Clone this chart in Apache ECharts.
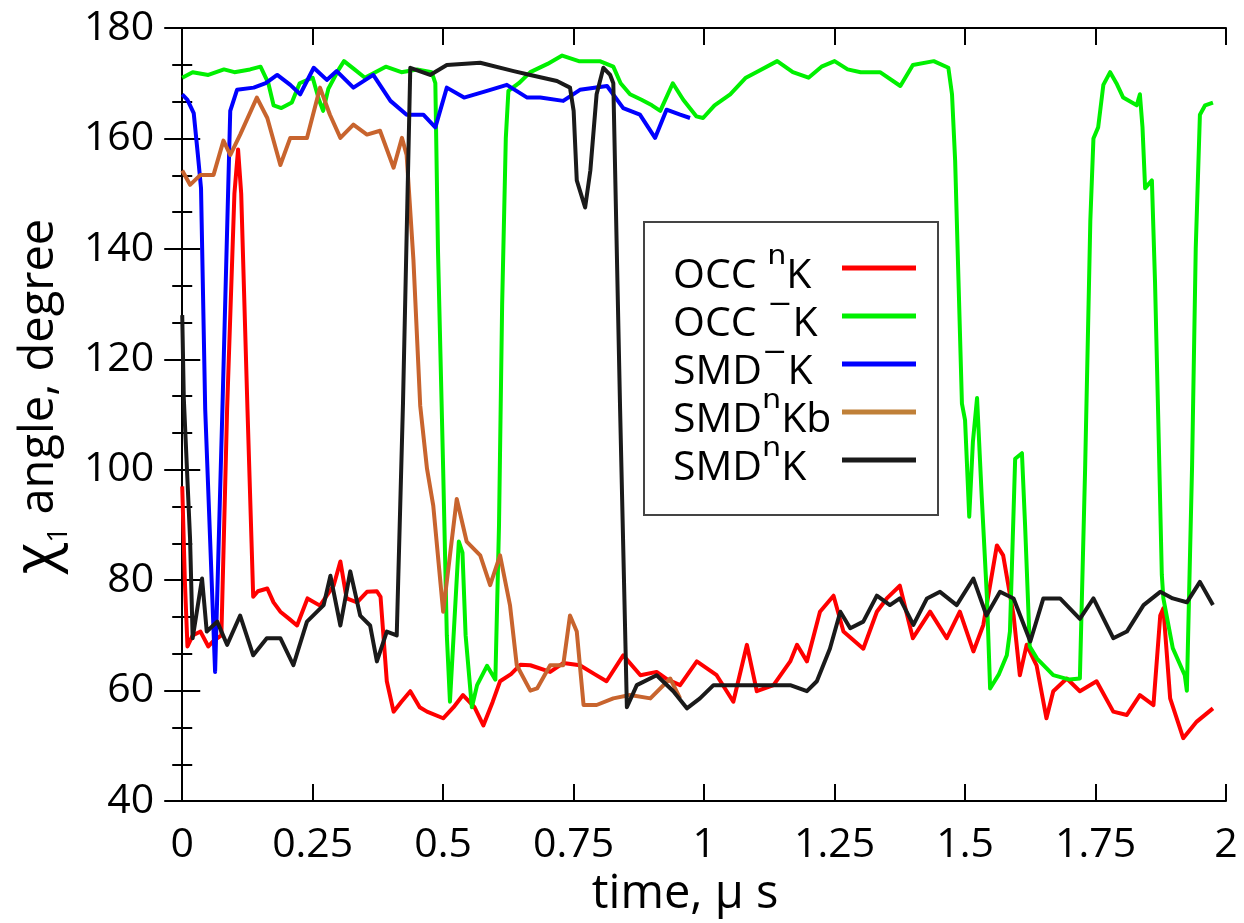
<!DOCTYPE html>
<html>
<head>
<meta charset="utf-8">
<script src="https://cdn.jsdelivr.net/npm/echarts@6/dist/echarts.min.js"></script>
<style>
  html, body { margin: 0; padding: 0; background: #fff; }
  #chart { width: 1244px; height: 923px; }
</style>
</head>
<body>
<div id="chart"></div>
<script>
// ---- data (time in µs, angle in degrees) ----
const xTicks = [0, 0.25, 0.5, 0.75, 1, 1.25, 1.5, 1.75, 2];
const yTicks = [40, 60, 80, 100, 120, 140, 160, 180];
const seriesNames = ['OCCnK', 'OCCmK', 'SMDmK', 'SMDnKb', 'SMDnK'];

const occnK = [[0,97],[0.005,80],[0.01,68],[0.02,70],[0.035,70.7],[0.05,68],[0.06,69],[0.075,70],[0.086,111],[0.1,150],[0.107,158],[0.113,150],[0.125,111],[0.136,77],[0.145,78],[0.163,78.5],[0.175,76],[0.188,74.3],[0.205,73],[0.22,71.8],[0.24,76.7],[0.264,75.4],[0.29,79],[0.303,83.4],[0.315,76.7],[0.335,76],[0.354,77.9],[0.373,78],[0.38,77],[0.392,61.7],[0.405,56.2],[0.42,58],[0.437,59.9],[0.455,57],[0.469,56.2],[0.5,55],[0.52,57],[0.538,59.2],[0.56,57],[0.577,53.7],[0.595,58],[0.609,61.7],[0.63,63],[0.648,64.7],[0.667,64.6],[0.705,63.4],[0.73,65],[0.762,64.6],[0.79,63],[0.813,61.7],[0.845,66.4],[0.878,62.8],[0.909,63.4],[0.93,62],[0.954,61],[0.986,65.3],[1.024,62.8],[1.056,58],[1.082,68.3],[1.101,59.9],[1.133,61],[1.165,65.3],[1.178,68.3],[1.197,65.3],[1.222,74.3],[1.248,77.2],[1.267,70.7],[1.305,67.6],[1.331,74.3],[1.35,76.7],[1.375,79],[1.4,69.5],[1.433,74.3],[1.465,69.5],[1.49,74.3],[1.516,67.1],[1.535,71.9],[1.561,86.3],[1.573,84.5],[1.593,73.6],[1.605,62.8],[1.618,68.3],[1.637,64.6],[1.656,55],[1.669,59.9],[1.695,62.2],[1.72,59.9],[1.752,61.7],[1.784,56.2],[1.81,55.6],[1.835,59.2],[1.861,57.4],[1.874,73.6],[1.88,74.9],[1.893,58.6],[1.918,51.4],[1.944,54.4],[1.975,56.8]];

const occmK = [[0,171],[0.02,172],[0.05,171.5],[0.08,172.5],[0.1,172],[0.13,172.5],[0.15,173],[0.165,170],[0.175,166],[0.19,165.5],[0.21,166.5],[0.225,170],[0.25,171],[0.262,167],[0.27,165],[0.28,169],[0.3,172.5],[0.31,174],[0.33,172.5],[0.35,171],[0.37,172],[0.39,173],[0.42,172],[0.45,172.5],[0.478,172],[0.485,170],[0.49,140],[0.5,100],[0.507,70],[0.513,58],[0.52,70],[0.53,87],[0.537,85],[0.543,70],[0.555,57],[0.565,61],[0.584,64.5],[0.6,62],[0.607,90],[0.613,130],[0.62,160],[0.625,168.6],[0.645,170],[0.667,172],[0.7,173.5],[0.728,175],[0.76,174],[0.8,174],[0.826,173],[0.84,170],[0.858,168],[0.88,167],[0.9,166],[0.916,165],[0.94,170],[0.96,167],[0.985,164],[0.998,163.7],[1.02,166],[1.05,168],[1.08,171],[1.1,172],[1.14,174],[1.17,172],[1.2,171],[1.225,173],[1.25,174],[1.275,172.5],[1.3,172],[1.337,172],[1.376,169.5],[1.4,173.3],[1.44,174],[1.468,172.8],[1.475,168],[1.481,156],[1.494,112],[1.5,109],[1.508,91.5],[1.515,105],[1.523,113],[1.532,95],[1.542,76.7],[1.548,60.4],[1.565,63],[1.58,66.4],[1.586,70.7],[1.596,102],[1.609,103],[1.615,90],[1.624,68],[1.638,65.8],[1.669,62.8],[1.7,62],[1.72,62.2],[1.73,100],[1.74,145],[1.746,160],[1.755,162],[1.765,169.7],[1.778,172],[1.79,170],[1.803,167.4],[1.829,166],[1.835,168],[1.84,162],[1.845,151],[1.858,152.4],[1.864,134],[1.87,110],[1.877,81],[1.88,76.7],[1.898,67.7],[1.921,62.8],[1.925,60],[1.935,100.7],[1.942,140],[1.95,164.3],[1.96,166],[1.975,166.5]];

const smdmK = [[0,168],[0.01,167],[0.022,164.6],[0.03,157],[0.036,151],[0.044,111],[0.063,63.4],[0.077,111],[0.092,165],[0.105,168.8],[0.137,169.2],[0.16,170],[0.182,171.5],[0.207,169.7],[0.226,168],[0.252,172.8],[0.277,170.6],[0.296,172.2],[0.328,169.2],[0.366,171.5],[0.399,166.8],[0.43,164.3],[0.462,164.3],[0.485,162],[0.507,169.2],[0.54,167.4],[0.584,168.6],[0.622,169.7],[0.661,167.4],[0.686,167.4],[0.73,166.8],[0.762,168.8],[0.814,169.5],[0.845,165.5],[0.877,164.3],[0.906,160.1],[0.928,165.2],[0.954,164.3],[0.973,163.7]];

const smdnKb = [[0,154.2],[0.015,151.6],[0.035,153.4],[0.06,153.4],[0.079,159.6],[0.092,157],[0.111,160.7],[0.143,167.4],[0.163,163.7],[0.188,155.2],[0.207,160.1],[0.239,160.1],[0.264,169.2],[0.283,164.3],[0.303,160.1],[0.328,162.5],[0.354,160.7],[0.379,161.4],[0.405,154.7],[0.421,160.1],[0.43,157],[0.443,138],[0.456,111.6],[0.469,100.2],[0.481,93.5],[0.5,74.3],[0.526,94.7],[0.545,87],[0.571,84.5],[0.59,79.1],[0.609,84.5],[0.628,75.5],[0.641,64.6],[0.667,60],[0.68,60.4],[0.705,64.6],[0.73,64.6],[0.743,73.6],[0.756,70.7],[0.769,57.4],[0.794,57.4],[0.826,58.6],[0.858,59.2],[0.897,58.6],[0.935,62.2],[0.954,58.6]];

const smdnK = [[0,128],[0.003,113],[0.015,87.5],[0.02,69.5],[0.038,80.3],[0.047,70.7],[0.067,72.5],[0.086,68.3],[0.111,73.6],[0.136,66.4],[0.162,69.5],[0.188,69.5],[0.213,64.6],[0.239,72.5],[0.271,75.5],[0.284,80.8],[0.303,71.8],[0.322,81.6],[0.341,73.6],[0.36,71.8],[0.373,65.3],[0.392,70.7],[0.411,70],[0.423,112],[0.437,172.8],[0.475,171.5],[0.507,173.3],[0.571,173.7],[0.635,172.2],[0.667,171.5],[0.718,170.4],[0.743,169.2],[0.75,165],[0.756,152.4],[0.772,147.5],[0.782,154.2],[0.794,168],[0.807,172.8],[0.82,171.5],[0.826,170],[0.839,111],[0.852,57],[0.871,61],[0.909,62.8],[0.941,59.9],[0.967,56.8],[0.992,58.6],[1.018,61],[1.063,61],[1.113,61],[1.165,61],[1.197,59.9],[1.216,61.7],[1.241,67.6],[1.261,74.3],[1.28,71.3],[1.305,72.5],[1.331,77.2],[1.356,75.5],[1.375,76.7],[1.401,71.9],[1.427,76.7],[1.452,77.9],[1.484,75.5],[1.516,80.3],[1.541,73.6],[1.567,77.9],[1.593,76.7],[1.625,68.9],[1.65,76.7],[1.682,76.7],[1.72,73],[1.746,76.7],[1.784,69.5],[1.81,70.7],[1.842,75.5],[1.874,77.9],[1.898,76.7],[1.925,76],[1.95,79.7],[1.975,75.5]];

const seriesData = [occnK, occmK, smdmK, smdnKb, smdnK];
const colors = ['#ff0000', '#00f000', '#0000ff', '#c8642e', '#1a1a1a'];
const legendColors = ['#ff0000', '#00f000', '#0000ff', '#c08038', '#1a1a1a'];
// legend label pieces: [main, superscript character, main]
const legendParts = {
  OCCnK: ['OCC ', '\u207F', 'K'],
  OCCmK: ['OCC ', '\u207B', 'K'],
  SMDmK: ['SMD', '\u207B', 'K'],
  SMDnKb: ['SMD', '\u207F', 'Kb'],
  SMDnK: ['SMD', '\u207F', 'K']
};

const FONT = 'Open Sans';
const SUP_FONT = 'DejaVu Sans';
const MAIN_SIZE = 41, SUP_SIZE = 48, TEXT_W = 164, ROW_H = 48;

// measure label widths so all legend texts get the same block width (left aligned text)
const mctx = document.createElement('canvas').getContext('2d');
function tw(s, size, fam) { mctx.font = size + 'px "' + fam + '"'; return mctx.measureText(s).width; }
const legendRich = {
  m: { fontFamily: FONT, fontSize: MAIN_SIZE, lineHeight: ROW_H, color: '#000' },
  u: { fontFamily: SUP_FONT, fontSize: SUP_SIZE, lineHeight: ROW_H, height: 32, verticalAlign: 'top', color: '#000' }
};
const legendLabels = {};
seriesNames.forEach((n, i) => {
  const p = legendParts[n];
  const w = tw(p[0], MAIN_SIZE, FONT) + tw(p[1], SUP_SIZE, SUP_FONT) + tw(p[2], MAIN_SIZE, FONT);
  const key = 'g' + i;
  legendRich[key] = { fontFamily: FONT, fontSize: MAIN_SIZE, lineHeight: ROW_H, width: Math.max(1, TEXT_W - w) };
  legendLabels[n] = '{m|' + p[0] + '}{u|' + p[1] + '}{m|' + p[2] + '}{' + key + '| }';
});

const chart = echarts.init(document.getElementById('chart'), null, { renderer: 'canvas' });

const axisCommon = {
  type: 'value',
  axisLine: { show: true, lineStyle: { color: '#000', width: 2 } },
  splitLine: { show: false }
};

chart.setOption({
  animation: false,
  backgroundColor: '#fff',
  grid: { left: 182, right: 18, top: 28, bottom: 120, containLabel: false },
  xAxis: [
    Object.assign({}, axisCommon, {
      position: 'bottom', min: 0, max: 2, interval: 0.25,
      axisTick: { show: true, inside: true, length: 17, lineStyle: { color: '#000', width: 2 } },
      axisLabel: { color: '#000', fontFamily: FONT, fontSize: 41, margin: 24,
        formatter: v => (xTicks.indexOf(v) >= 0 ? String(v) : '') },
      name: 'time, \u03bc s', nameLocation: 'middle', nameGap: 66,
      nameTextStyle: { color: '#000', fontFamily: FONT, fontSize: 47, padding: [0, 38, 0, 0] }
    }),
    Object.assign({}, axisCommon, {
      position: 'top', min: 0, max: 2, interval: 0.25,
      axisTick: { show: true, inside: true, length: 17, lineStyle: { color: '#000', width: 2 } },
      axisLabel: { show: false }
    })
  ],
  yAxis: [
    Object.assign({}, axisCommon, {
      position: 'left', min: 40, max: 180, interval: 20,
      axisTick: { show: true, inside: true, length: 18, lineStyle: { color: '#000', width: 2 } },
      minorTick: { show: true, splitNumber: 3, length: 10, lineStyle: { color: '#000', width: 2 } },
      axisLabel: { color: '#000', fontFamily: FONT, fontSize: 41, margin: 28,
        formatter: v => (yTicks.indexOf(v) >= 0 ? String(v) : '') },
      name: '{c|\u03c7}{sub|1}{a| angle, degree}', nameLocation: 'middle', nameGap: 107,
      nameTextStyle: {
        color: '#000', fontFamily: FONT, fontSize: 47, padding: [0, 0, 0, 36],
        rich: {
          c: { fontFamily: FONT, fontSize: 58, height: 50, lineHeight: 56, padding: [0, 0, 6, 0], color: '#000' },
          a: { fontFamily: FONT, fontSize: 47, height: 50, lineHeight: 56, color: '#000' },
          sub: { fontFamily: FONT, fontSize: 28, height: 24, lineHeight: 16, padding: [38, 0, 0, 0], color: '#000' }
        }
      }
    }),
    Object.assign({}, axisCommon, {
      position: 'right', min: 40, max: 180, interval: 20,
      axisTick: { show: true, inside: true, length: 18, lineStyle: { color: '#000', width: 2 } },
      minorTick: { show: true, splitNumber: 3, length: 10, lineStyle: { color: '#000', width: 2 } },
      axisLabel: { show: false }
    })
  ],
  legend: {
    orient: 'vertical',
    left: 644, top: 222,
    align: 'right',
    padding: [22, 22, 23, 29],
    itemGap: -8,
    // a 74x5 bar placed in the upper part of a 74x21 icon box (bar sits above the text centre)
    icon: 'path://M0,0 L74,0 L74,5 L0,5 Z M0,21 L0.01,21 Z',
    itemWidth: 74,
    itemHeight: 21,
    borderColor: '#444',
    borderWidth: 2,
    backgroundColor: '#fff',
    data: seriesNames.map((n, i) => ({ name: n, itemStyle: { color: legendColors[i] } })),
    formatter: n => legendLabels[n],
    textStyle: { color: '#000', fontFamily: FONT, fontSize: MAIN_SIZE, lineHeight: ROW_H, rich: legendRich }
  },
  series: seriesNames.map((n, i) => ({
    name: n,
    type: 'line',
    xAxisIndex: 0,
    yAxisIndex: 0,
    data: seriesData[i],
    showSymbol: false,
    symbol: 'none',
    lineStyle: { color: colors[i], width: 4, join: 'round' },
    itemStyle: { color: colors[i] },
    z: 2 + i
  }))
});
</script>
</body>
</html>
